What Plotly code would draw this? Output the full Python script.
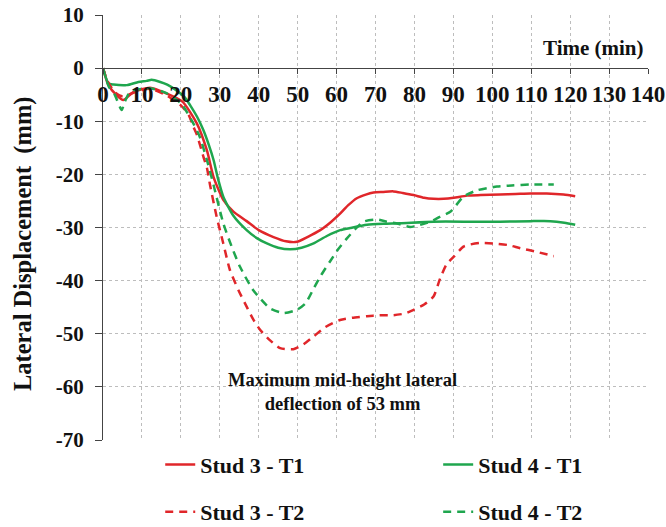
import plotly.graph_objects as go

# ---- data ----
s3t1_x = [0, 1.4, 3.5, 5.2, 7.8, 12.1, 16.4, 20.4, 24.1, 26.7, 28.4, 30.9, 33.5, 36.9, 40, 43.8, 47, 49.8,
          52.5, 55.8, 58.5, 60.9, 63, 65.2, 67.5, 69.5, 72, 74.6, 77, 79.8, 82.5, 84.9, 87.5, 90.1, 93.5,
          97, 102, 106, 109.8, 114, 118.3, 121.3]
s3t1_y = [0, -3.2, -5.1, -6.0, -4.5, -3.7, -4.8, -6.3, -10.4, -15.5, -20.5, -24.8, -27.0, -28.8, -30.5,
          -31.8, -32.6, -32.7, -31.8, -30.5, -29.0, -27.4, -25.8, -24.5, -23.8, -23.4, -23.3, -23.2, -23.5,
          -23.9, -24.4, -24.6, -24.6, -24.4, -24.0, -23.9, -23.8, -23.7, -23.6, -23.6, -23.8, -24.1]

s4t1_x = [0, 1.4, 2.7, 6.1, 9.1, 11.2, 12.5, 14.7, 16.5, 18.9, 21.0, 22.4, 24.2, 25.8, 27.2, 28.4, 29.6,
          30.9, 33.5, 36.9, 39.5, 42.1, 45, 48.1, 51, 54.1, 57.5, 60.9, 63.5, 67.8, 72, 76.3, 84.9, 95,
          102, 110, 114.9, 118.5, 121.3]
s4t1_y = [0, -2.9, -3.1, -3.2, -2.6, -2.4, -2.2, -2.6, -3.1, -4.2, -5.5, -7.0, -9.2, -11.7, -14.5, -17.3,
          -21.0, -24.2, -27.8, -30.5, -32.0, -33.0, -33.8, -34.1, -33.8, -33.0, -31.6, -30.5, -30.1, -29.5,
          -29.3, -29.2, -28.9, -28.9, -28.9, -28.8, -28.8, -29.1, -29.5]

s3t2_x = [0, 1.2, 3, 5, 8, 12, 16, 20, 22, 23.2, 24.1, 25.8, 26.7, 27.5, 29.2, 30.9, 32.6, 34.8, 36.9,
          38.6, 40.4, 43, 45.5, 48.9, 51.5, 54.1, 57, 60.9, 64, 67.8, 71, 74.6, 77.5, 79.8, 82.5, 84.9,
          86.6, 88.2, 90.1, 92.6, 94.3, 96.9, 100.3, 104, 107.2, 111.5, 115.8]
s3t2_y = [0, -2.5, -4.5, -5.3, -4.6, -3.9, -5.0, -7.0, -8.8, -11.0, -12.5, -16.7, -18.8, -22.0, -28.0,
          -33.0, -38.0, -41.8, -44.9, -47.3, -49.3, -51.3, -52.7, -52.9, -52.0, -50.5, -48.8, -47.4, -47.0,
          -46.7, -46.5, -46.5, -46.2, -45.5, -44.5, -43.0, -39.6, -37.0, -35.5, -33.6, -33.2, -32.9, -33.0,
          -33.3, -33.9, -34.6, -35.4]

s4t2_x = [0, 1.5, 3, 4.8, 5.5, 6.9, 9, 12, 16, 20, 23.2, 24.9, 26.7, 28.4, 30.9, 33, 35.2, 38.6, 42.9,
          46.4, 49.8, 52, 54.1, 56, 58.4, 60.5, 62.6, 64.8, 66.9, 70.4, 72.9, 75.8, 78.9, 81.5, 84.1, 86.5,
          89.3, 92.6, 96.1, 101.2, 105, 109.8, 115.8]
s4t2_y = [0, -3.5, -5.0, -7.9, -6.5, -4.5, -4.0, -3.8, -4.6, -6.6, -10.4, -13.0, -17.3, -22.0, -29.2,
          -33.5, -37.4, -41.8, -45.2, -46.1, -45.5, -44.3, -41.5, -39.0, -36.3, -34.0, -32.1, -30.3, -28.9,
          -28.5, -28.9, -29.3, -29.9, -29.5, -28.9, -28.0, -27.0, -24.2, -23.0, -22.3, -22.1, -21.9, -21.9]

x_ticks = list(range(0, 141, 10))
y_ticks = list(range(-70, 11, 10))

RED = "#E0262A"
GREEN = "#1FA64E"
FONT = "Liberation Serif, Times New Roman, serif"

fig = go.Figure()
fig.add_trace(go.Scatter(x=s3t1_x, y=s3t1_y, mode="lines", name="Stud 3 - T1",
                         line=dict(color=RED, width=2.5, shape="spline", smoothing=0.6), legend="legend"))
fig.add_trace(go.Scatter(x=s4t1_x, y=s4t1_y, mode="lines", name="Stud 4 - T1",
                         line=dict(color=GREEN, width=2.5, shape="spline", smoothing=0.6), legend="legend2"))
fig.add_trace(go.Scatter(x=s3t2_x, y=s3t2_y, mode="lines", name="Stud 3 - T2",
                         line=dict(color=RED, width=2.5, dash="8px,6px", shape="spline", smoothing=0.6),
                         legend="legend3"))
fig.add_trace(go.Scatter(x=s4t2_x, y=s4t2_y, mode="lines", name="Stud 4 - T2",
                         line=dict(color=GREEN, width=2.5, dash="8px,6px", shape="spline", smoothing=0.6),
                         legend="legend4"))

leg_common = dict(orientation="h", xanchor="left", yanchor="middle",
                  font=dict(family=FONT, size=22, color="#111", weight="bold"), bgcolor="rgba(0,0,0,0)",
                  itemwidth=30)
col1, col2 = 0.105, 0.615
row1, row2 = -0.058, -0.169

fig.update_layout(
    width=666, height=527,
    margin=dict(l=103, r=18, t=15, b=87, autoexpand=False),
    plot_bgcolor="white", paper_bgcolor="white",
    showlegend=True,
    legend=dict(x=col1, y=row1, **leg_common),
    legend2=dict(x=col2, y=row1, **leg_common),
    legend3=dict(x=col1, y=row2, **leg_common),
    legend4=dict(x=col2, y=row2, **leg_common),
    xaxis=dict(range=[0, 140], tickvals=x_ticks, ticktext=[str(v) for v in x_ticks],
               anchor="free", position=0.875, showline=True, linecolor="#444", linewidth=1,
               ticks="outside", ticklen=5, tickcolor="#444", ticklabelstandoff=0,
               ticklabeloverflow="allow",
               showgrid=True, gridcolor="#BDBDBD", griddash="3px,3px", gridwidth=1, zeroline=False,
               tickfont=dict(family=FONT, size=23, color="#111", weight="bold")),
    yaxis=dict(range=[-70, 10], tickvals=y_ticks, ticktext=[str(v) for v in y_ticks],
               showline=True, linecolor="#444", linewidth=1, ticks="outside", ticklen=7, tickcolor="#444",
               ticklabelstandoff=7, ticklabeloverflow="allow",
               showgrid=True, gridcolor="#BDBDBD", griddash="3px,3px", gridwidth=1, zeroline=False,
               tickfont=dict(family=FONT, size=21, color="#111", weight="bold")),
)

fig.add_annotation(x=139.5, y=3.7, xref="x", yref="y", text="Time (min)", showarrow=False,
                   xanchor="right", yanchor="middle",
                   font=dict(family=FONT, size=21, color="#111", weight="bold"))
fig.add_annotation(x=-0.147, y=0.463, xref="paper", yref="paper", text="Lateral Displacement\u00a0\u00a0(mm)",
                   showarrow=False, textangle=-90, xanchor="center", yanchor="middle",
                   font=dict(family=FONT, size=24.5, color="#111", weight="bold"))
fig.add_annotation(x=61.4, y=-61.0, xref="x", yref="y",
                   text="Maximum mid-height lateral<br>deflection of 53 mm", showarrow=False,
                   xanchor="center", yanchor="middle",
                   font=dict(family=FONT, size=18.5, color="#111", weight="bold"))

# remove the default 8px page margin so the figure fills the window exactly
fig.write_html("out.html", config={"displayModeBar": False},
               post_script="document.body.style.margin='0';")
